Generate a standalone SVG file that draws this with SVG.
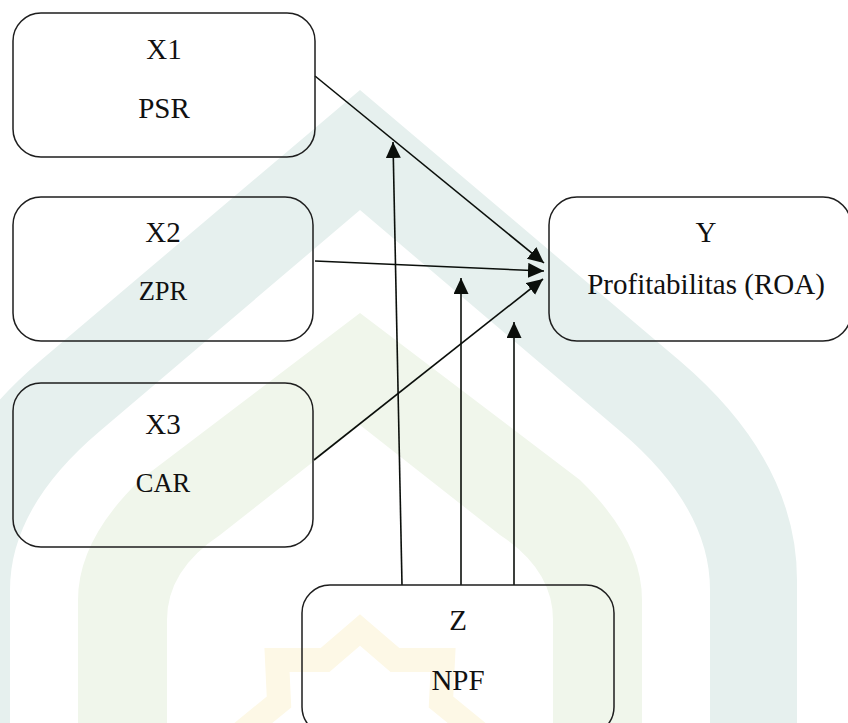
<svg xmlns="http://www.w3.org/2000/svg" width="848" height="723" viewBox="0 0 848 723">
<style>
.box{fill:none;stroke:#1e1e1e;stroke-width:1.5}
.lbl{font-family:"Liberation Serif","Times New Roman",serif;font-size:29px;fill:#111;text-anchor:middle}
.sm{font-size:26.5px}
.con line{stroke:#0b0f0b;stroke-width:1.6;marker-end:url(#ah)}
</style>
<defs>
<marker id="ah" markerUnits="userSpaceOnUse" markerWidth="18" markerHeight="16" refX="16" refY="7.5" orient="auto">
<path d="M0,0 L16,7.5 L0,15 Z" fill="#0b0f0b"/>
</marker>
</defs>
<rect width="848" height="723" fill="#ffffff"/>
<g id="watermark">
<path d="M-77,740 L-77,580 Q-77,461 40,361 L360,90 L680,361 Q797,461 797,580 L797,740 L710,740 L710,590 Q710,507 620,431 L360,210 L100,431 Q10,507 10,590 L10,740 Z" fill="#e6f0ee"/>
<path d="M78,740 L78,600 Q78,540 140,480 L360,313 L580,480 Q642,540 642,600 L642,740 L553,740 L553,620 Q553,570 500,535 L360,425 L220,535 Q167,570 167,620 L167,740 Z" fill="#f0f6eb"/>
<path d="M360,630 L395,660 L443,660 L441,702 L474,729 L441,756 L443,798 L395,798 L360,828 L325,798 L277,798 L279,756 L246,729 L279,702 L277,660 L325,660 Z" fill="none" stroke="#fdf8e6" stroke-width="24" stroke-linejoin="miter"/>
</g>
<g id="connectors" class="con">
<line x1="315" y1="76" x2="544" y2="263"/>
<line x1="315" y1="261" x2="544" y2="271"/>
<line x1="314" y1="460" x2="543" y2="279"/>
<line x1="402" y1="585" x2="393" y2="142"/>
<line x1="461" y1="585" x2="461" y2="278"/>
<line x1="514" y1="585" x2="514" y2="322"/>
</g>
<g id="x1">
<rect class="box" x="13" y="13" width="302" height="144" rx="28"/>
<text class="lbl" x="164" y="59">X1</text>
<text class="lbl" x="164" y="118">PSR</text>
</g>
<g id="x2">
<rect class="box" x="13" y="197" width="300" height="144" rx="28"/>
<text class="lbl" x="163" y="242">X2</text>
<text class="lbl sm" x="163" y="300">ZPR</text>
</g>
<g id="x3">
<rect class="box" x="13" y="383" width="300" height="164" rx="28"/>
<text class="lbl" x="163" y="434">X3</text>
<text class="lbl sm" x="163" y="492">CAR</text>
</g>
<g id="y">
<rect class="box" x="549" y="197" width="302" height="144" rx="28"/>
<text class="lbl" x="706" y="242">Y</text>
<text class="lbl" x="706" y="294">Profitabilitas (ROA)</text>
</g>
<g id="z">
<rect class="box" x="302" y="585" width="312" height="150" rx="28"/>
<text class="lbl" x="458" y="630">Z</text>
<text class="lbl" x="458" y="690">NPF</text>
</g>
</svg>
